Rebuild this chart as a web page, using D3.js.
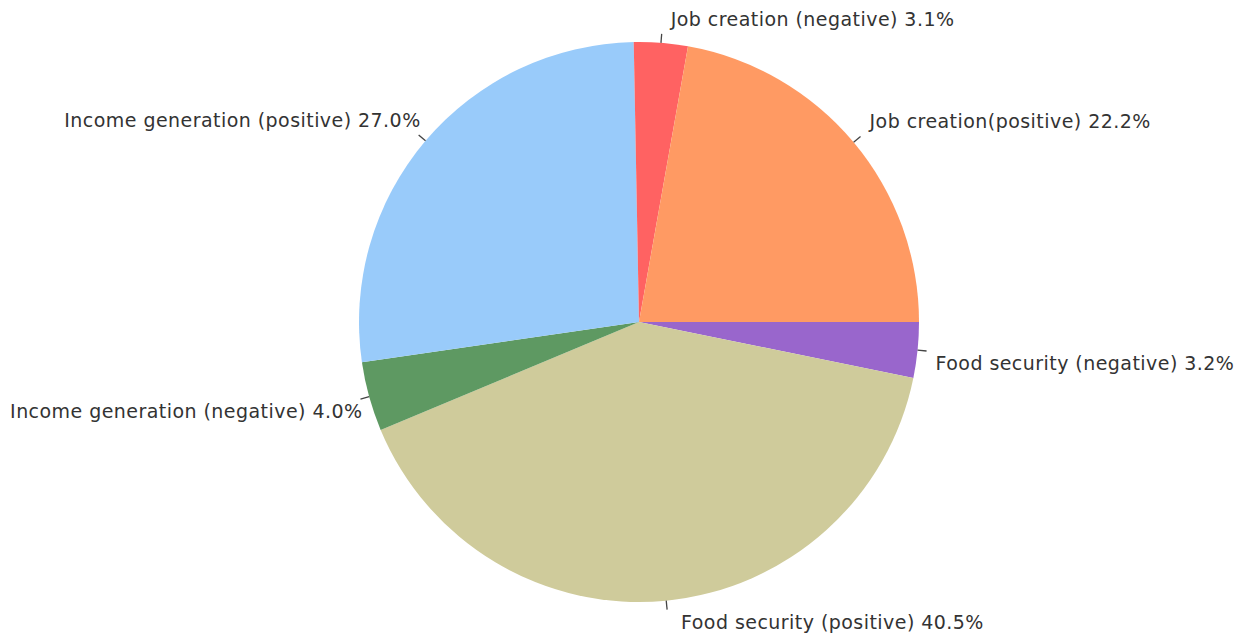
<!DOCTYPE html>
<html><head><meta charset="utf-8">
<script src="https://cdn.jsdelivr.net/npm/d3@7"></script>
<style>html,body{margin:0;padding:0;background:#fff;}</style>
</head><body>
<svg id="chart" width="1245" height="634"></svg>
<script>
const categories = ["Food security (negative)", "Food security (positive)", "Income generation (negative)", "Income generation (positive)", "Job creation (negative)", "Job creation (positive)"];
const values = [3.2, 40.5, 4.0, 27.0, 3.1, 22.2];
const labels = ["Food security (negative) 3.2%", "Food security (positive) 40.5%", "Income generation (negative) 4.0%", "Income generation (positive) 27.0%", "Job creation (negative) 3.1%", "Job creation(positive) 22.2%"];
const colors = ["#9966CC", "#CFCB9B", "#5E9962", "#99CBFA", "#FF6262", "#FF9A63"];

const W = 1245, H = 634, cx = 639, cy = 322, R = 280;
const svg = d3.select("#chart");
const g = svg.append("g").attr("transform", `translate(${cx},${cy})`);

const pie = d3.pie().sort(null).value(d => d)
  .startAngle(Math.PI / 2).endAngle(Math.PI / 2 + 2 * Math.PI);
const arcs = pie(values);
const arc = d3.arc().innerRadius(0).outerRadius(R);

g.selectAll("path.slice").data(arcs).enter().append("path")
  .attr("class", "slice")
  .attr("d", arc)
  .attr("fill", (d, i) => colors[i]);

const pt = (a, r) => [Math.sin(a) * r, -Math.cos(a) * r];
arcs.forEach((d, i) => {
  const a = (d.startAngle + d.endAngle) / 2;
  const p0 = pt(a, R), p1 = pt(a, R + 9);
  g.append("line").attr("x1", p0[0]).attr("y1", p0[1]).attr("x2", p1[0]).attr("y2", p1[1])
    .attr("stroke", "#444").attr("stroke-width", 1.3);
  const right = Math.sin(a) >= 0;
  const below = -Math.cos(a) > 0;
  const nearBottom = Math.abs(Math.sin(a)) < 0.3 && below;
  g.append("text")
    .attr("x", p1[0] + (right ? (nearBottom ? 14 : 9) : 2))
    .attr("y", p1[1] + (below ? 19 : -8))
    .attr("text-anchor", right ? "start" : "end")
    .attr("font-family", "'DejaVu Sans', sans-serif")
    .attr("font-size", 19)
    .attr("letter-spacing", 0.45)
    .attr("fill", "#333")
    .text(labels[i]);
});
</script>
</body></html>
